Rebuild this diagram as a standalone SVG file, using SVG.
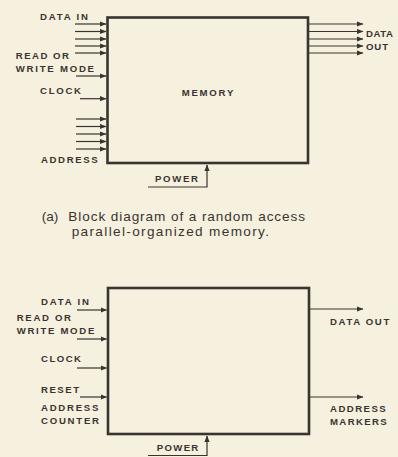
<svg xmlns="http://www.w3.org/2000/svg" width="398" height="457" viewBox="0 0 398 457">
<defs>
<style>
.bg{fill:#f6f0de}
.box{fill:none;stroke:#3a3431;stroke-width:2.6}
.ln{fill:none;stroke:#3a3431;stroke-width:1.2}
.lb{font-family:"Liberation Sans",Arial,sans-serif;font-weight:bold;font-size:9.6px;fill:#3a3431}
.cap{font-family:"Liberation Sans",Arial,sans-serif;font-size:13.6px;fill:#3a3431}
</style>
<marker id="ah" markerUnits="userSpaceOnUse" markerWidth="7" markerHeight="6" refX="6" refY="3" orient="auto">
<path d="M0,0.4 L6.5,3 L0,5.6 Z" fill="#3a3431"/>
</marker>
</defs>
<rect class="bg" x="0" y="0" width="398" height="457"/>

<g id="memory-a">
<rect class="box" x="107.5" y="17.5" width="200.5" height="145.5"/>
<text class="lb" x="181.7" y="95.5" textLength="51.6" lengthAdjust="spacing">MEMORY</text>
</g>
<g id="labels-a">
<text class="lb" x="40" y="19.5" textLength="48" lengthAdjust="spacing">DATA IN</text>
<text class="lb" x="15.7" y="59" textLength="53.3" lengthAdjust="spacing">READ OR</text>
<text class="lb" x="15.7" y="72.3" textLength="78.3" lengthAdjust="spacing">WRITE MODE</text>
<text class="lb" x="40" y="94" textLength="41" lengthAdjust="spacing">CLOCK</text>
<text class="lb" x="41" y="163.3" textLength="56.7" lengthAdjust="spacing">ADDRESS</text>
<text class="lb" x="366" y="36.5" textLength="27" lengthAdjust="spacing">DATA</text>
<text class="lb" x="366" y="49.5" textLength="22" lengthAdjust="spacing">OUT</text>
<text class="lb" x="155" y="182" textLength="43" lengthAdjust="spacing">POWER</text>
</g>
<g id="caption-a">
<text class="cap" x="41.7" y="220.7">(a)</text>
<text class="cap" x="68.3" y="220.7" textLength="236.7" lengthAdjust="spacing">Block diagram of a random access</text>
<text class="cap" x="71.7" y="235.5" textLength="197.3" lengthAdjust="spacing">parallel-organized memory.</text>
</g>

<g id="memory-b">
<rect class="box" x="108" y="288" width="201" height="146"/>
</g>
<g id="labels-b">
<text class="lb" x="41" y="305" textLength="48" lengthAdjust="spacing">DATA IN</text>
<text class="lb" x="16.7" y="321" textLength="54.3" lengthAdjust="spacing">READ OR</text>
<text class="lb" x="16.7" y="334" textLength="77.6" lengthAdjust="spacing">WRITE MODE</text>
<text class="lb" x="41" y="362" textLength="40" lengthAdjust="spacing">CLOCK</text>
<text class="lb" x="41" y="393" textLength="38" lengthAdjust="spacing">RESET</text>
<text class="lb" x="41" y="411" textLength="57.3" lengthAdjust="spacing">ADDRESS</text>
<text class="lb" x="41" y="424" textLength="58" lengthAdjust="spacing">COUNTER</text>
<text class="lb" x="330" y="325" textLength="59.3" lengthAdjust="spacing">DATA OUT</text>
<text class="lb" x="330" y="412" textLength="55.7" lengthAdjust="spacing">ADDRESS</text>
<text class="lb" x="330" y="425" textLength="56.7" lengthAdjust="spacing">MARKERS</text>
<text class="lb" x="156.7" y="451" textLength="41.6" lengthAdjust="spacing">POWER</text>
</g>

<g id="connectors" class="ln" marker-end="url(#ah)">
<line x1="75" y1="24" x2="106" y2="24"/>
<line x1="75" y1="31.5" x2="106" y2="31.5"/>
<line x1="75" y1="39" x2="106" y2="39"/>
<line x1="75" y1="46" x2="106" y2="46"/>
<line x1="75" y1="53" x2="106" y2="53"/>
<line x1="76" y1="76" x2="106" y2="76"/>
<line x1="80" y1="98.7" x2="106" y2="98.7"/>
<line x1="76" y1="119" x2="106" y2="119"/>
<line x1="76" y1="126.5" x2="106" y2="126.5"/>
<line x1="76" y1="134" x2="106" y2="134"/>
<line x1="76" y1="141.5" x2="106" y2="141.5"/>
<line x1="76" y1="149" x2="106" y2="149"/>
<line x1="309" y1="24" x2="363" y2="24"/>
<line x1="309" y1="31.5" x2="363" y2="31.5"/>
<line x1="309" y1="39" x2="363" y2="39"/>
<line x1="309" y1="46" x2="363" y2="46"/>
<line x1="309" y1="53" x2="363" y2="53"/>
<polyline points="148,187 207,187 207,165"/>
<line x1="77" y1="310" x2="106.5" y2="310"/>
<line x1="77" y1="339" x2="106.5" y2="339"/>
<line x1="77" y1="368" x2="106.5" y2="368"/>
<line x1="80" y1="397" x2="106.5" y2="397"/>
<line x1="310" y1="309" x2="363" y2="309"/>
<line x1="310" y1="397" x2="363" y2="397"/>
<polyline points="148,455.5 207,455.5 207,436"/>
</g>
</svg>
